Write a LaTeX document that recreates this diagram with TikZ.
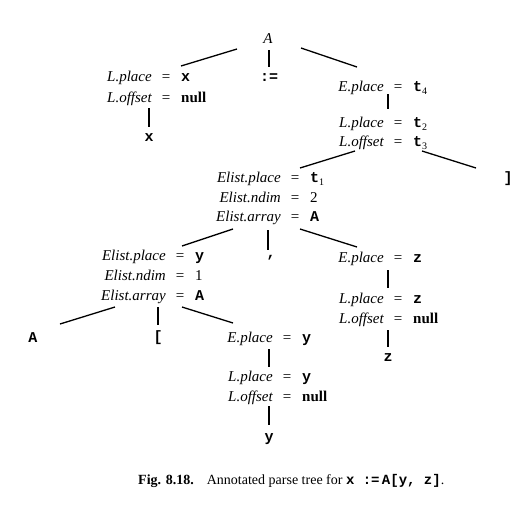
\documentclass[tikz,border=0pt]{standalone}
\usepackage{fontspec}
\setmainfont{Liberation Serif}
\setmonofont{Liberation Mono}
\newcommand\tv[1]{{\ttfamily\bfseries #1}}
\newcommand\tsub[2]{\tv{#1}\raisebox{-3pt}{\fontsize{10}{10}\selectfont #2}}
\newcommand\attr[5]{%
  \node[lab, anchor=base east] (#1-l) at (#2-14,#3) {#4};
  \node[eqs, anchor=base] (#1-e) at (#2,#3) {=};
  \node[val, anchor=base west] (#1-v) at (#2+15,#3) {#5};}
\begin{document}
\begin{tikzpicture}[x=1pt,y=-1pt,
  lab/.style={font=\fontsize{15}{18}\selectfont\itshape, inner sep=0},
  eqs/.style={font=\fontsize{15}{18}\selectfont, inner sep=0},
  val/.style={font=\fontsize{15}{18}\selectfont, inner sep=0},
  sym/.style={font=\fontsize{15}{18}\selectfont, inner sep=0, anchor=base},
  captext/.style={font=\fontsize{14}{16}\selectfont, inner sep=0, anchor=base west},
  edge/.style={line width=1.3pt}]
\useasboundingbox (0,0) rectangle (519,509);
% root
\node[sym, font=\fontsize{15}{18}\selectfont\itshape] (root) at (268,43) {A};
\node[sym] (assign) at (269,81) {\tv{:=}};
% left L
\attr{lp}{166}{81}{L.place}{\tv{x}}
\attr{lo}{166}{102}{L.offset}{\textbf{null}}
\node[sym] (x) at (149,141) {\tv{x}};
% right E
\attr{ep}{398}{91}{E.place}{\tsub{t}{4}}
\attr{lp2}{398}{127}{L.place}{\tsub{t}{2}}
\attr{lo2}{398}{146}{L.offset}{\tsub{t}{3}}
\node[sym] (rb) at (508,182) {\tv{]}};
% Elist top
\attr{el1}{295}{182}{Elist.place}{\tsub{t}{1}}
\attr{en1}{295}{202}{Elist.ndim}{2}
\attr{ea1}{295}{221}{Elist.array}{\tv{A}}
\node[sym] (comma) at (271,257) {\tv{,}};
% E.place = z
\attr{ep3}{398}{262}{E.place}{\tv{z}}
\attr{lp3}{398}{303}{L.place}{\tv{z}}
\attr{lo3}{398}{323}{L.offset}{\textbf{null}}
\node[sym] (z) at (388,361) {\tv{z}};
% Elist lower
\attr{el2}{180}{260}{Elist.place}{\tv{y}}
\attr{en2}{180}{280}{Elist.ndim}{1}
\attr{ea2}{180}{300}{Elist.array}{\tv{A}}
\node[sym] (arr) at (33,342) {\tv{A}};
\node[sym] (lb) at (158,341) {\tv{[}};
% E.place = y
\attr{ep4}{287}{342}{E.place}{\tv{y}}
\attr{lp4}{287}{381}{L.place}{\tv{y}}
\attr{lo4}{287}{401}{L.offset}{\textbf{null}}
\node[sym] (y) at (269,441) {\tv{y}};
% connectors
\coordinate (r1) at (237,49); \coordinate (c1) at (181,66);
\coordinate (r2) at (269,50); \coordinate (c2) at (269,67);
\coordinate (r3) at (301,48); \coordinate (c3) at (357,67);
\draw[edge] (r1) -- (c1);
\draw[edge] (r2) -- (c2);
\draw[edge] (r3) -- (c3);
\coordinate (lx1) at (149,108); \coordinate (lx2) at (149,127);
\draw[edge] (lx1) -- (lx2);
\coordinate (e1a) at (388,94); \coordinate (e1b) at (388,109);
\draw[edge] (e1a) -- (e1b);
\coordinate (l2a) at (355,151); \coordinate (l2b) at (300,168);
\coordinate (l2c) at (422,151); \coordinate (l2d) at (476,168);
\draw[edge] (l2a) -- (l2b);
\draw[edge] (l2c) -- (l2d);
\coordinate (a1a) at (233,229); \coordinate (a1b) at (182,246);
\coordinate (a1c) at (268,230); \coordinate (a1d) at (268,250);
\coordinate (a1e) at (300,229); \coordinate (a1f) at (357,247);
\draw[edge] (a1a) -- (a1b);
\draw[edge] (a1c) -- (a1d);
\draw[edge] (a1e) -- (a1f);
\coordinate (e3a) at (388,270); \coordinate (e3b) at (388,288);
\coordinate (l3a) at (388,330); \coordinate (l3b) at (388,347);
\draw[edge] (e3a) -- (e3b);
\draw[edge] (l3a) -- (l3b);
\coordinate (a2a) at (115,307); \coordinate (a2b) at (60,324);
\coordinate (a2c) at (158,307); \coordinate (a2d) at (158,325);
\coordinate (a2e) at (182,307); \coordinate (a2f) at (233,323);
\draw[edge] (a2a) -- (a2b);
\draw[edge] (a2c) -- (a2d);
\draw[edge] (a2e) -- (a2f);
\coordinate (e4a) at (269,349); \coordinate (e4b) at (269,367);
\coordinate (l4a) at (269,406); \coordinate (l4b) at (269,425);
\draw[edge] (e4a) -- (e4b);
\draw[edge] (l4a) -- (l4b);
% caption
\node[captext] (caption) at (138,484) {\textbf{Fig. 8.18.}\hspace{0.6em} Annotated parse tree for \tv{x :=\,A[y, z]}.};
\end{tikzpicture}
\end{document}
